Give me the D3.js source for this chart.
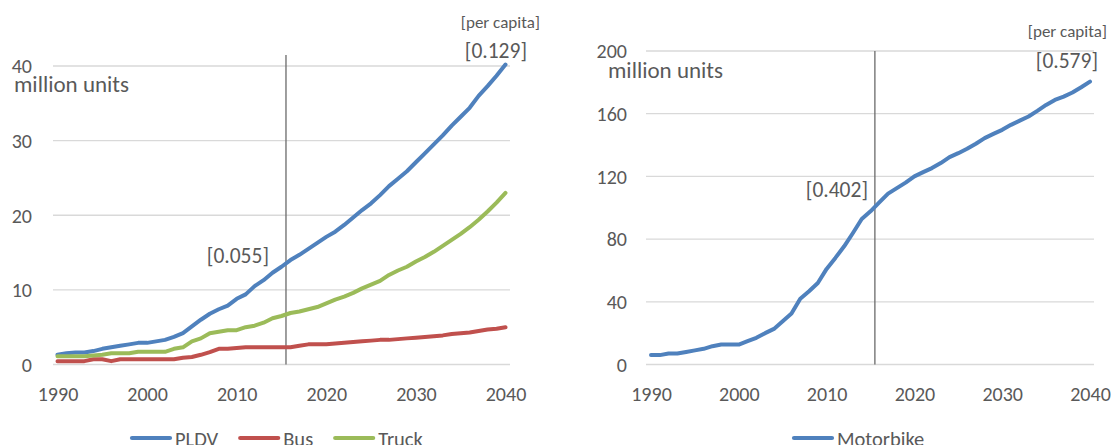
<!DOCTYPE html>
<html>
<head>
<meta charset="utf-8">
<script src="https://cdn.jsdelivr.net/npm/d3@7"></script>
<style>
  html, body { margin: 0; padding: 0; background: #ffffff; }
  svg { display: block; }
  text { font-family: Carlito, "Liberation Sans", Arial, sans-serif; fill: #595959; }
</style>
</head>
<body>
<svg id="chart" width="1115" height="445"></svg>
<script>
// ---------------- data ----------------
const years = d3.range(1990, 2041);

const pldv = [1.3, 1.5, 1.6, 1.6, 1.8, 2.1, 2.3, 2.5, 2.7, 2.9, 2.9, 3.1, 3.3, 3.7, 4.2,
  5.1, 6.0, 6.8, 7.4, 7.9, 8.8, 9.4, 10.5, 11.3, 12.3, 13.1, 14.0, 14.7, 15.5, 16.3,
  17.1, 17.8, 18.7, 19.7, 20.7, 21.6, 22.7, 23.9, 24.9, 25.9, 27.1, 28.3, 29.5, 30.7,
  32.0, 33.2, 34.4, 36.0, 37.3, 38.7, 40.2];

const bus = [0.45, 0.45, 0.45, 0.45, 0.7, 0.7, 0.45, 0.7, 0.7, 0.7, 0.7, 0.7, 0.7, 0.7, 0.9,
  1.0, 1.3, 1.65, 2.1, 2.1, 2.2, 2.3, 2.3, 2.3, 2.3, 2.3, 2.3, 2.5, 2.7, 2.7,
  2.7, 2.8, 2.9, 3.0, 3.1, 3.2, 3.3, 3.3, 3.4, 3.5, 3.6, 3.7, 3.8, 3.9,
  4.1, 4.2, 4.3, 4.5, 4.7, 4.8, 5.0];

const truck = [1.1, 1.1, 1.1, 1.1, 1.2, 1.3, 1.5, 1.5, 1.5, 1.7, 1.7, 1.7, 1.7, 2.1, 2.3,
  3.1, 3.5, 4.2, 4.4, 4.6, 4.6, 5.0, 5.2, 5.6, 6.2, 6.5, 6.9, 7.1, 7.4, 7.7,
  8.2, 8.7, 9.1, 9.6, 10.2, 10.7, 11.2, 12.0, 12.6, 13.1, 13.8, 14.4, 15.1, 15.9,
  16.7, 17.5, 18.4, 19.4, 20.5, 21.7, 23.0];

const motorbike = [6, 6, 7, 7, 8, 9, 10, 11.7, 12.7, 12.7, 12.7, 14.9, 17, 20, 22.7,
  27.6, 32.5, 42, 46.7, 52, 61, 68, 75.4, 83.9, 92.8, 97.7, 103.4, 109, 112.5, 116,
  120, 122.7, 125.3, 128.5, 132.3, 134.8, 137.6, 140.8, 144.4, 147.1, 149.7, 152.9,
  155.6, 158.2, 161.8, 165.6, 168.8, 170.9, 173.5, 176.9, 180.5];

const xTicks = [1990, 2000, 2010, 2020, 2030, 2040];
const leftYTicks = [0, 10, 20, 30, 40];
const rightYTicks = [0, 40, 80, 120, 160, 200];
const baseYear = 2015.5;

const leftSeries = [
  { name: "PLDV", values: pldv, color: "#4f81bd" },
  { name: "Bus", values: bus, color: "#c0504d" },
  { name: "Truck", values: truck, color: "#9bbb59" }
];
const rightSeries = [
  { name: "Motorbike", values: motorbike, color: "#4f81bd" }
];

const leftLabels = { unit: "million units", perCapita: "[per capita]", end: "[0.129]", mid: "[0.055]" };
const rightLabels = { unit: "million units", perCapita: "[per capita]", end: "[0.579]", mid: "[0.402]" };

// ---------------- drawing ----------------
const svg = d3.select("#chart");
const FONT = 'Carlito, "Liberation Sans", Arial, sans-serif';

function drawPanel(cfg) {
  const g = svg.append("g");
  const x = d3.scaleLinear().domain([1990, 2040]).range(cfg.xRange);
  const y = d3.scaleLinear().domain([0, cfg.yMax]).range(cfg.yRange);

  // gridlines
  g.append("g").selectAll("line").data(cfg.yTicks).join("line")
    .attr("x1", cfg.gridX[0]).attr("x2", cfg.gridX[1])
    .attr("y1", d => y(d)).attr("y2", d => y(d))
    .attr("stroke", "#d9d9d9").attr("stroke-width", 1.3);

  // y axis labels
  const yAxis = d3.axisLeft(y).tickValues(cfg.yTicks).tickSize(0).tickPadding(0);
  const ya = g.append("g").attr("transform", `translate(${cfg.yLabelRight},0)`).call(yAxis);
  ya.select(".domain").remove();
  ya.selectAll("text").attr("font-size", 20).attr("fill", "#595959").attr("dy", "0.34em")
    .style("font-family", FONT);

  // x axis labels
  const xAxis = d3.axisBottom(x).tickValues(cfg.xTicks).tickFormat(d3.format("d")).tickSize(0).tickPadding(0);
  const xa = g.append("g").attr("transform", `translate(0,${cfg.xLabelBase})`).call(xAxis);
  xa.select(".domain").remove();
  xa.selectAll("text").attr("font-size", 20).attr("fill", "#595959").attr("y", 0).attr("dy", 0)
    .style("font-family", FONT);

  // vertical base-year line
  g.append("line")
    .attr("x1", x(baseYear)).attr("x2", x(baseYear))
    .attr("y1", cfg.vTop).attr("y2", y(0))
    .attr("stroke", "#6a6a6a").attr("stroke-width", 1.3);

  // series lines
  const line = d3.line().x((d, i) => x(years[i])).y(d => y(d));
  g.append("g").selectAll("path").data(cfg.series).join("path")
    .attr("d", d => line(d.values))
    .attr("fill", "none")
    .attr("stroke", d => d.color)
    .attr("stroke-width", 4)
    .attr("stroke-linejoin", "round")
    .attr("stroke-linecap", "round");

  // texts
  const L = cfg.labels;
  g.append("text").attr("x", cfg.unitPos[0]).attr("y", cfg.unitPos[1])
    .attr("font-size", 23).text(L.unit);
  g.append("text").attr("x", cfg.perCapPos[0]).attr("y", cfg.perCapPos[1])
    .attr("text-anchor", "end").attr("font-size", 17).text(L.perCapita);
  g.append("text").attr("x", cfg.endPos[0]).attr("y", cfg.endPos[1])
    .attr("text-anchor", "end").attr("font-size", 21.5).text(L.end);
  g.append("text").attr("x", cfg.midPos[0]).attr("y", cfg.midPos[1])
    .attr("text-anchor", "end").attr("font-size", 21.5).text(L.mid);

  // legend
  const lg = g.append("g");
  let cx = cfg.legendX;
  cfg.series.forEach(s => {
    lg.append("line")
      .attr("x1", cx + 2).attr("x2", cx + 40)
      .attr("y1", cfg.legendY).attr("y2", cfg.legendY)
      .attr("stroke", s.color).attr("stroke-width", 4.2).attr("stroke-linecap", "round");
    const t = lg.append("text").attr("x", cx + 45).attr("y", cfg.legendY + 8)
      .attr("font-size", 20.5).text(s.name);
    cx = cx + 45 + t.node().getComputedTextLength() + 20;
  });
}

drawPanel({
  xRange: [57.5, 505.5], yRange: [364.5, 66], yMax: 40,
  gridX: [53, 510], yTicks: leftYTicks, xTicks: xTicks,
  yLabelRight: 32, xLabelBase: 401, vTop: 55,
  series: leftSeries, labels: leftLabels,
  unitPos: [14, 92], perCapPos: [540, 28], endPos: [527, 58], midPos: [269, 263],
  legendX: 130, legendY: 438
});

drawPanel({
  xRange: [651, 1090], yRange: [364.5, 51], yMax: 200,
  gridX: [646, 1094], yTicks: rightYTicks, xTicks: xTicks,
  yLabelRight: 627, xLabelBase: 401, vTop: 51,
  series: rightSeries, labels: rightLabels,
  unitPos: [608, 77.5], perCapPos: [1107, 37], endPos: [1098, 68], midPos: [868, 197],
  legendX: 792, legendY: 438
});
</script>
</body>
</html>
